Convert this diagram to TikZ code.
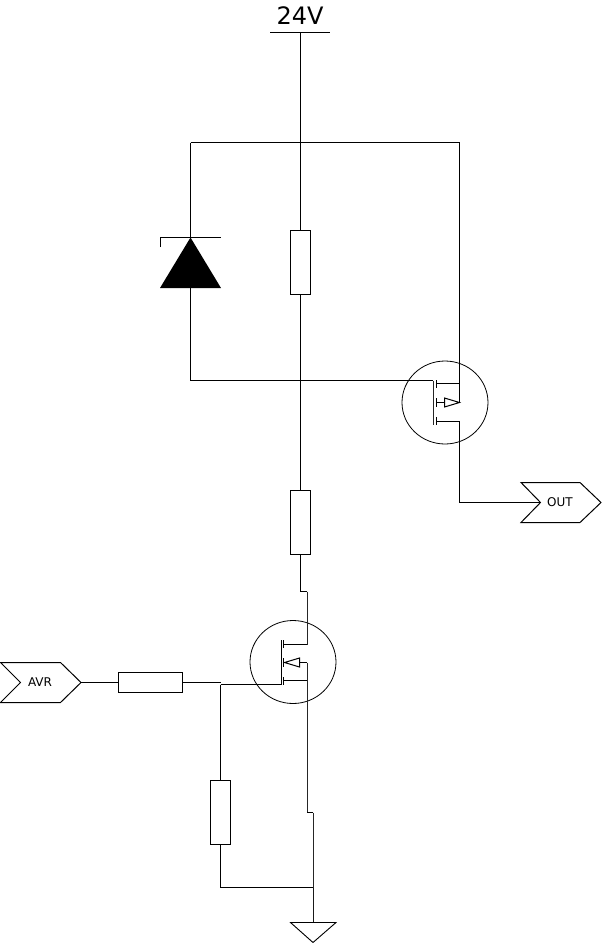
\documentclass[tikz,border=0pt]{standalone}
\usepackage{fontspec}
\usetikzlibrary{shapes.geometric}
\setmainfont{DejaVu Sans}
\tikzset{
  wire/.style={line width=1pt,black},
  softwire/.style={line width=1pt,black!85},
  plate/.style={line width=1.6pt,black},
  resh/.style={draw,line width=1pt,rectangle,minimum width=64pt,minimum height=20pt,inner sep=0pt,outer sep=0pt},
  resv/.style={draw,line width=1pt,rectangle,minimum width=20pt,minimum height=64pt,inner sep=0pt,outer sep=0pt},
  ring/.style={draw,line width=.8pt,ellipse,minimum width=86pt,minimum height=83pt,inner sep=0pt,outer sep=0pt},
  tagtext/.style={inner sep=0pt,font=\fontsize{12}{14}\selectfont},
  railtext/.style={inner sep=0pt,font=\fontsize{24}{28}\selectfont},
}
\begin{document}
\begin{tikzpicture}[x=1pt,y=-1pt]
\useasboundingbox (0,0) rectangle (602,943);
% supply
\node[railtext] (vlabel) at (300,16) {24V};
\coordinate (barl) at (270,32.5);
\coordinate (barr) at (330,32.5);
\coordinate (vcc) at (300.5,32.5);
\draw[wire] (barl) -- (barr);
% resistors
\node[resv] (r1) at (300.5,262.5) {};
\node[resv] (r2) at (300.5,522.5) {};
\node[resh] (r3) at (150.5,682.5) {};
\node[resv] (r4) at (220.5,812.5) {};
% rails and junctions
\coordinate (topl) at (190.5,142.5);
\coordinate (topm) at (300.5,142.5);
\coordinate (topr) at (459.5,142.5);
\draw[wire] (vcc) -- (r1.north);
\draw[wire] (topl) -- (topr);
% diode
\coordinate (dk) at (190.5,237.5);
\coordinate (dbl) at (160.5,237.5);
\coordinate (dbr) at (220.5,237.5);
\coordinate (dtick) at (160.5,247);
\coordinate (dal) at (160,288);
\coordinate (dar) at (221,288);
\coordinate (da) at (190.5,288);
\coordinate (gatel) at (190.5,380.5);
\coordinate (gatem) at (300.5,380.5);
\fill[black] (dk) -- (dal) -- (dar) -- cycle;
\draw[wire] (dtick) -- (dbl) -- (dbr);
\draw[wire] (topl) -- (dk);
\draw[wire] (da) -- (gatel);
% upper MOSFET
\node[ring] (q1) at (445,402.5) {};
\coordinate (q1g) at (433,380.5);
\coordinate (q1gb) at (433,425);
\coordinate (q1dr) at (459.5,383.5);
\coordinate (q1sr) at (459.5,402.5);
\coordinate (q1o) at (459.5,421.5);
\coordinate (q1dt) at (436.5,383.5);
\coordinate (q1mt) at (436.5,402.5);
\coordinate (q1st) at (436.5,421.5);
\coordinate (q1tb) at (444.5,402.5);
\coordinate (q1ta) at (444.5,398);
\coordinate (q1tc) at (444.5,407);
\draw[wire] (gatel) -- (q1g);
\draw[softwire] (q1g) -- (q1gb);
\draw[plate] (436.5,380) -- (436.5,388);
\draw[plate] (436.5,398) -- (436.5,407);
\draw[plate] (436.5,417) -- (436.5,425);
\draw[wire] (q1dt) -- (q1dr);
\draw[wire] (q1st) -- (q1o);
\draw[wire] (q1mt) -- (q1tb);
\draw[wire,line join=miter] (q1ta) -- (q1sr) -- (q1tc) -- cycle;
\draw[wire] (topr) -- (q1sr);
% output
\coordinate (otl) at (521,482.5);
\coordinate (otr) at (580,482.5);
\coordinate (otp) at (601,502.5);
\coordinate (obr) at (580,522.5);
\coordinate (obl) at (521,522.5);
\coordinate (ont) at (540.5,502.5);
\coordinate (ocr) at (459.5,502.5);
\draw[wire] (otl) -- (otr) -- (otp) -- (obr) -- (obl) -- (ont) -- cycle;
\node[tagtext] (out) at (560,502.5) {OUT};
\draw[wire] (q1o) -- (ocr) -- (ont);
% middle vertical
\draw[wire] (r1.south) -- (r2.north);
% lower MOSFET
\coordinate (j1) at (300.5,590.5);
\coordinate (j2) at (307,591.5);
\node[ring] (q2) at (293,662) {};
\coordinate (q2d) at (307,644.5);
\coordinate (q2s) at (307,662.5);
\coordinate (q2b) at (307,680.5);
\coordinate (j3) at (307,812.5);
\coordinate (j4) at (313,812.5);
\coordinate (gj) at (313,887.5);
\coordinate (gt) at (313,922.5);
\draw[wire] (r2.south) -- (j1) -- (300.5,591.5) -- (j2);
\draw[softwire] (j2) -- (q2d);
\draw[softwire] (q2s) -- (j3);
\draw[wire] (j3) -- (j4);
\draw[softwire] (j4) -- (gj);
\draw[line width=1pt,black!90] (gj) -- (gt);
\coordinate (q2g) at (281.5,684.5);
\coordinate (q2gt) at (281.5,640);
\coordinate (q2tb) at (284.5,662.5);
\coordinate (q2ta) at (299.5,658);
\coordinate (q2tc) at (299.5,667);
\draw[wire] (q2g) -- (q2gt);
\draw[plate] (283.5,640) -- (283.5,648);
\draw[plate] (283.5,658) -- (283.5,667);
\draw[plate] (283.5,677) -- (283.5,685);
\draw[wire] (284,644.5) -- (q2d);
\draw[wire] (284,680.5) -- (q2b);
\draw[wire,line join=miter] (q2tb) -- (q2ta) -- (q2tc) -- cycle;
\draw[wire] (q2ta |- q2s) -- (q2s);
% AVR input
\coordinate (atl) at (0.5,662.5);
\coordinate (atr) at (60.5,662.5);
\coordinate (atp) at (81,682.5);
\coordinate (abr) at (60.5,702.5);
\coordinate (abl) at (0.5,702.5);
\coordinate (ant) at (20.5,682.5);
\draw[wire] (atl) -- (atr) -- (atp) -- (abr) -- (abl) -- (ant) -- cycle;
\node[tagtext] (avr) at (40,682.5) {AVR};
\draw[wire] (atp) -- (r3.west);
\coordinate (rj) at (220.5,682.5);
\coordinate (rk) at (220.5,684.5);
\draw[wire] (r3.east) -- (rj);
\draw[wire] (rk) -- (q2g);
\draw[wire] (rk) -- (r4.north);
\draw[wire] (r4.south) |- (gj);
% ground
\coordinate (gl) at (290.5,922.5);
\coordinate (gr) at (336,922.5);
\coordinate (gb) at (313,942.5);
\draw[line width=.9pt,black] (gl) -- (gr) -- (gb) -- cycle;
\end{tikzpicture}
\end{document}
